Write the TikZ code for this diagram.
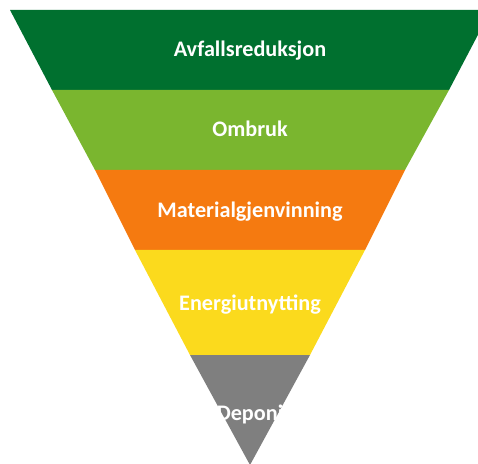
\documentclass[tikz,border=0pt]{standalone}
\usepackage{fontspec}
\setmainfont{Carlito}
\usepackage{tikz, xcolor}
\newcommand{\pxunit}{1pt}
\definecolor{avfallgreen}{HTML}{00702F}
\definecolor{ombrukgreen}{HTML}{7AB62F}
\definecolor{materialorange}{HTML}{F57A10}
\definecolor{energiyellow}{HTML}{FBDA1D}
\definecolor{deponigray}{HTML}{7F7F7F}

\begin{document}
\begin{tikzpicture}
\useasboundingbox (0,0) rectangle (478*\pxunit,463*\pxunit);
\clip (0,0) rectangle (478*\pxunit,463*\pxunit);
\tikzstyle{every node}=[text=white,
			font=\fontsize{22.2}{24}\selectfont\bfseries,
			anchor=base,
			inner sep=0pt
			]


\fill[avfallgreen] (10*\pxunit,453*\pxunit) -- (491*\pxunit,453*\pxunit) -- (449*\pxunit,373*\pxunit) -- (52*\pxunit,373*\pxunit) -- cycle;


\fill[ombrukgreen] (52*\pxunit,373*\pxunit) -- (449*\pxunit,373*\pxunit) -- (405*\pxunit,293*\pxunit) -- (95*\pxunit,293*\pxunit) -- cycle;


\fill[materialorange] (95*\pxunit,293*\pxunit) -- (405*\pxunit,293*\pxunit) -- (365*\pxunit,213*\pxunit) -- (135*\pxunit,213*\pxunit) -- cycle;


\fill[energiyellow] (135*\pxunit,213*\pxunit) -- (365*\pxunit,213*\pxunit) -- (310*\pxunit,108*\pxunit) -- (190*\pxunit,108*\pxunit) -- cycle;


\fill[deponigray] (190*\pxunit,108*\pxunit) -- (310*\pxunit,108*\pxunit) -- (250*\pxunit,-2*\pxunit) -- cycle;


\node (avfall) at (250*\pxunit,406*\pxunit) {Avfallsreduksjon};


\node (ombruk) at (250*\pxunit,326*\pxunit) {Ombruk};


\node (material) at (250*\pxunit,245*\pxunit) {Materialgjenvinning};


\node (energi) at (250*\pxunit,153*\pxunit) {Energiutnytting};


\node (deponi) at (250*\pxunit,43*\pxunit) {Deponi};


\end{tikzpicture}
\end{document}
